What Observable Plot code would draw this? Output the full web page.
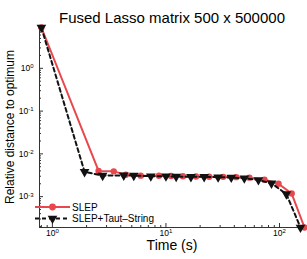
<!DOCTYPE html>
<html><head><meta charset="utf-8">
<script src="https://cdn.jsdelivr.net/npm/d3@7"></script>
<script src="https://cdn.jsdelivr.net/npm/@observablehq/plot@0.6"></script>
<style>
html,body{margin:0;padding:0;background:#fff;}
#chart{width:307px;height:259px;}
</style></head><body><div id="chart"></div>
<script>
const title = "Fused Lasso matrix 500 x 500000";
const xLabel = "Time (s)";
const yLabel = "Relative distance to optimum";
const seriesNames = ["SLEP", "SLEP+Taut\u2013String"];

const slepTime = [0.80, 2.55, 3.47, 4.43, 6.0, 8.67, 11.1, 14.1, 18.4, 24.0, 31.9, 41.6, 54.3, 73.7, 98, 128, 166];
const slepDist = [9.0, 4.0e-3, 3.9e-3, 3.25e-3, 3.1e-3, 3.08e-3, 3.05e-3, 3.0e-3, 2.95e-3, 2.92e-3, 2.9e-3, 2.86e-3, 2.78e-3, 2.5e-3, 2.0e-3, 1.18e-3, 1.9e-4];

const tautTime = [0.80, 1.92, 2.77, 4.25, 5.21, 7.36, 10.0, 12.3, 16.6, 21.7, 28.8, 37.6, 49.0, 65.2, 85, 115, 153];
const tautDist = [9.0, 3.8e-3, 3.1e-3, 3.15e-3, 3.1e-3, 3.0e-3, 3.0e-3, 2.95e-3, 2.9e-3, 2.9e-3, 2.85e-3, 2.8e-3, 2.7e-3, 2.45e-3, 2.05e-3, 1.15e-3, 1.9e-4];

const xMajorTicks = [1, 10, 100];
const yMajorTicks = [1e-3, 1e-2, 1e-1, 1];
const xDomain = [0.77, 166];
const yDomain = [1.9e-4, 9.5];

const red = "#e8474d";
const black = "#111";

function minorTicks(domain) {
  const out = [];
  for (let e = Math.floor(Math.log10(domain[0])); e <= Math.ceil(Math.log10(domain[1])); e++) {
    for (let m = 2; m <= 9; m++) {
      const v = m * Math.pow(10, e);
      if (v >= domain[0] && v <= domain[1]) out.push(v);
    }
  }
  return out;
}
const expFmt = d => "10|" + Math.round(Math.log10(d));

const slep = slepTime.map((t, i) => ({t, d: slepDist[i]}));
const taut = tautTime.map((t, i) => ({t, d: tautDist[i]}));

const plot = Plot.plot({
  width: 307, height: 259,
  marginLeft: 39, marginRight: 3, marginTop: 26, marginBottom: 32,
  style: {fontFamily: "'Liberation Sans', Arial, sans-serif", background: "#fff", color: "#000"},
  x: {type: "log", domain: xDomain, label: null},
  y: {type: "log", domain: yDomain, label: null},
  marks: [
    Plot.axisX({ticks: minorTicks(xDomain), tickSize: -2, tickFormat: () => "", stroke: "#333", label: null}),
    Plot.axisX({ticks: xMajorTicks, tickSize: -4, tickFormat: () => "", stroke: "#333", label: null}),
    Plot.axisX({ticks: xMajorTicks, tickSize: 0, tickPadding: 2, tickFormat: expFmt, fontSize: 8.5, label: null}),
    Plot.axisY({ticks: minorTicks(yDomain), tickSize: -2, tickFormat: () => "", stroke: "#333", label: null}),
    Plot.axisY({ticks: yMajorTicks, tickSize: 0 , tickFormat: () => "", stroke: "#333", label: null}),
    Plot.axisY({ticks: yMajorTicks, tickSize: -4, tickFormat: () => "", stroke: "#333", label: null}),
    Plot.axisY({ticks: yMajorTicks, tickSize: 0, tickPadding: 6, tickFormat: expFmt, fontSize: 8.5, label: null}),
    Plot.frame({anchor: "left", stroke: "#333"}),
    Plot.frame({anchor: "bottom", stroke: "#333"}),
    Plot.line(slep, {x: "t", y: "d", stroke: red, strokeWidth: 2}),
    Plot.dot(slep, {x: "t", y: "d", r: 3.2, fill: red}),
    Plot.line(taut, {x: "t", y: "d", stroke: black, strokeWidth: 2, strokeDasharray: "4,3"}),
    Plot.dot(taut, {x: "t", y: "d", symbol: "triangle", rotate: 180, r: 3.6, fill: black}),
    Plot.text([title], {text: d => d, frameAnchor: "top", dy: -14, fontSize: 15}),
    Plot.text([xLabel], {text: d => d, frameAnchor: "bottom", dy: 22, fontSize: 14}),
    Plot.text([yLabel], {text: d => d, frameAnchor: "left", textAnchor: "middle", dx: -29, rotate: -90, fontSize: 12})
  ]
});

// superscript exponents in tick labels
d3.select(plot).selectAll("text").each(function() {
  const s = this.textContent;
  if (/^10\|-?\d+$/.test(s)) {
    const e = s.split("|")[1];
    const t = d3.select(this);
    t.text(null);
    t.append("tspan").text("10");
    t.append("tspan").attr("dy", "-0.45em").attr("font-size", 6).text(e);
  }
});

// legend
const lg = d3.select(plot).append("g")
  .attr("font-family", "'Liberation Sans', Arial, sans-serif")
  .attr("font-size", 10).attr("text-anchor", "start");
const legendItems = [
  {name: seriesNames[0], color: red, dash: null, sym: d3.symbolCircle, size: 36, rot: 0},
  {name: seriesNames[1], color: black, dash: "4,3", sym: d3.symbolTriangle, size: 40, rot: 180}
];
legendItems.forEach((it, i) => {
  const y = 207 + i * 11.5;
  const g = lg.append("g").attr("transform", `translate(0,${y})`);
  g.append("line").attr("x1", 35).attr("x2", 70).attr("stroke", it.color).attr("stroke-width", 2).attr("stroke-dasharray", it.dash);
  g.append("path").attr("d", d3.symbol(it.sym, it.size)()).attr("transform", `translate(52.5,0) rotate(${it.rot})`).attr("fill", it.color);
  g.append("text").attr("x", 72).attr("dy", "0.35em").attr("text-anchor", "start").text(it.name);
});

document.getElementById("chart").appendChild(plot);
</script>
</body></html>
